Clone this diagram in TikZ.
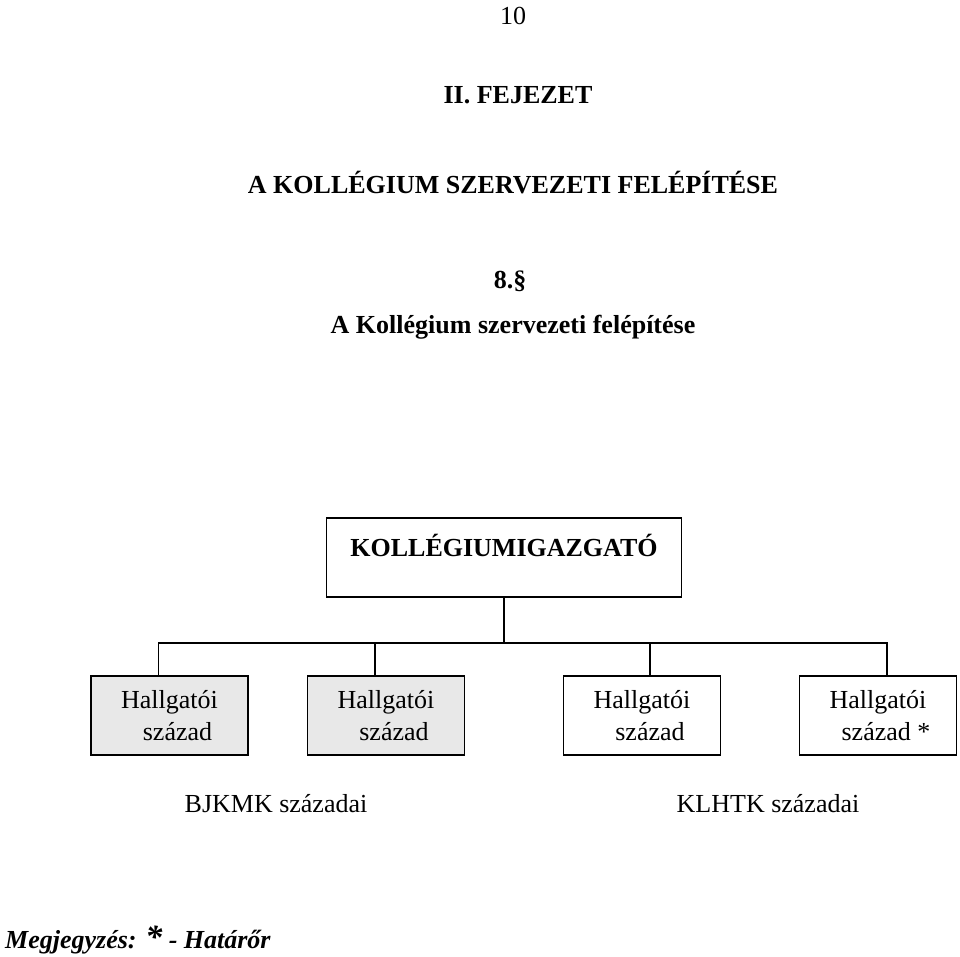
\documentclass[tikz,border=0pt]{standalone}
\usepackage{fontspec}
\setmainfont{Liberation Serif}[
  BoldFont={Liberation Serif Bold},
  ItalicFont={Liberation Serif Italic},
  BoldItalicFont={Liberation Serif Bold Italic}]
\usetikzlibrary{positioning}

\begin{document}
\begin{tikzpicture}[
  x=1pt,y=-1pt,
  every node/.style={font=\fontsize{26}{32}\selectfont,inner sep=0pt},
  heading/.style={font=\fontsize{26}{32}\selectfont\bfseries},
  unit/.style={
    draw=black,line width=1.6pt,minimum width=157pt,minimum height=79pt,
    align=center
  },
  shaded/.style={unit,fill=black!9},
  chief/.style={
    draw=black,line width=1.6pt,minimum width=355pt,
    text height=38pt,text depth=41pt,
    font=\fontsize{26}{32}\selectfont\bfseries
  },
  link/.style={draw=black,line width=1.6pt},
  group/.style={anchor=base},
  note/.style={font=\fontsize{26}{32}\selectfont\bfseries\itshape,anchor=base west}
]
  \useasboundingbox (0,0) rectangle (960,956);

  % page header
  \node[anchor=base] (page) at (513,24) {10};
  \node[heading,anchor=base] (chapter) at (518,103) {II. FEJEZET};
  \node[heading,anchor=base] (title) at (513,193) {A KOLLÉGIUM SZERVEZETI FELÉPÍTÉSE};
  \node[heading,anchor=base] (para) at (510,288) {8.§};
  \node[heading,anchor=base] (subtitle) at (513,333) {A Kollégium szervezeti felépítése};

  % organisation chart
  \node[chief] (director) at (504,557.5) {KOLLÉGIUMIGAZGATÓ};
  \coordinate (hub) at (504,643);

  \node[shaded] (c1) at (169.5,715.5) {Hallgatói\\ \hspace*{16pt}század};
  \node[shaded] (c2) at (386,715.5) {Hallgatói\\ \hspace*{16pt}század};
  \node[unit] (c3) at (642,715.5) {Hallgatói\\ \hspace*{16pt}század};
  \node[unit] (c4) at (878,715.5) {Hallgatói\\ \hspace*{16pt}század *};

  \draw[link] (director.south) -- (hub);
  \draw[link] ([xshift=-11pt]c1.north) -- ([xshift=-11pt]c1.north |- hub)
    -- ([xshift=9pt]c4.north |- hub) -- ([xshift=9pt]c4.north);
  \draw[link] ([xshift=-11pt]c2.north) -- ([xshift=-11pt]c2.north |- hub);
  \draw[link] ([xshift=8pt]c3.north) -- ([xshift=8pt]c3.north |- hub);

  \node[group] (bjkmk) at (276,812) {BJKMK századai};
  \node[group] (klhtk) at (768,812) {KLHTK századai};

  \node[note] (remark) at (5,948) {Megjegyzés: {\fontsize{34}{34}\selectfont*} - Határőr};
\end{tikzpicture}
\end{document}
